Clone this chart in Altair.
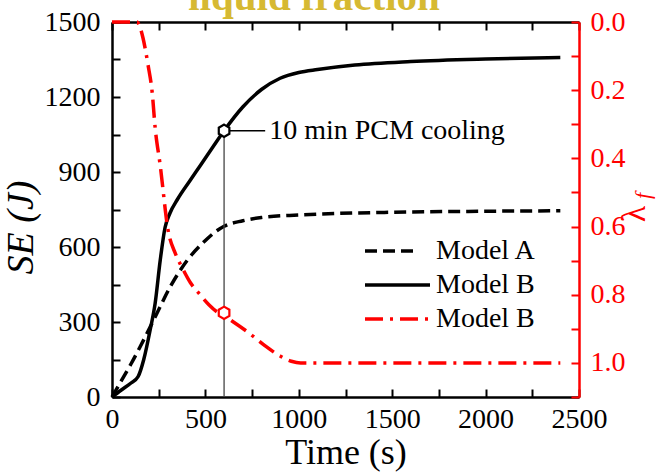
import altair as alt
import pandas as pd

# ---------------- data ----------------
time_a = [0, 43, 100, 150, 231, 311, 402, 500, 563, 600, 700, 800, 1000, 1200, 1500, 2000, 2400]
se_a = [0, 56, 130, 200, 320, 440, 546, 626, 666, 683, 705, 718, 728, 734, 739, 743, 745]

time_b = [0, 50, 100, 140, 170, 204, 231, 258, 284, 310, 350, 418, 472, 540, 600, 700, 800,
          900, 1000, 1100, 1300, 1600, 2000, 2400]
se_b = [0, 28, 55, 82, 150, 267, 375, 546, 678, 735, 790, 866, 925, 1000, 1065, 1160, 1230,
        1275, 1298, 1310, 1328, 1342, 1352, 1358]

time_lf = [0, 134, 150, 166, 193, 215, 231, 258, 300, 340, 375, 420, 472, 520, 569, 600, 650,
           740, 820, 900, 960, 1010, 1500, 2000, 2400]
lf_b = [0.0, 0.0, 0.015, 0.047, 0.126, 0.206, 0.31, 0.42, 0.61, 0.68, 0.72, 0.765, 0.80, 0.83,
        0.853, 0.862, 0.88, 0.915, 0.95, 0.98, 0.995, 1.0, 1.0, 1.0, 1.0]

mark_time = [600]
mark_se = [1065]
mark_lf = [0.853]
label_time = [820]
annotation = ["10 min PCM cooling"]
legend_labels = ["Model A", "Model B", "Model B"]

x_ticks = list(range(0, 2501, 250))
y_ticks = list(range(0, 1501, 150))
lf_ticks = [round(i * 0.1, 1) for i in range(12)]

FONT = "Liberation Serif"
TICK_IN = {"expr": "-8"}
HEX = "M0,-1L0.866,-0.5L0.866,0.5L0,1L-0.866,0.5L-0.866,-0.5Z"

df_a = pd.DataFrame({"t": time_a, "se": se_a})
df_b = pd.DataFrame({"t": time_b, "se": se_b})
df_lf = pd.DataFrame({"t": time_lf, "lf": lf_b})
df_mark = pd.DataFrame({"t": mark_time, "se": mark_se, "lf": mark_lf,
                        "t_end": label_time, "label": annotation})

common_axis = dict(grid=False, labelFont=FONT, labelFontSize=28, titleFont=FONT,
                   titleFontSize=36, titleFontWeight="normal", domainWidth=2.5,
                   tickWidth=2, tickSize=TICK_IN, labelFlush=False, labelOverlap=False)

x_scale = alt.Scale(domain=[0, 2500], nice=False, zero=False)
x_bottom = alt.X("t:Q", scale=x_scale, axis=alt.Axis(
    orient="bottom", values=x_ticks, format="d",
    labelExpr="datum.value % 500 == 0 ? datum.label : ''",
    labelPadding=16, title="Time (s)", titlePadding=2,
    domainColor="black", tickColor="black", labelColor="black", titleColor="black",
    **common_axis))
x_top = alt.X("t:Q", scale=x_scale, axis=alt.Axis(
    orient="top", values=x_ticks, labels=False, title=None,
    domainColor="black", tickColor="black", **common_axis))

y_axis_opts = dict(common_axis)
y_axis_opts["titleFontSize"] = 38
y_se = alt.Y("se:Q", scale=alt.Scale(domain=[0, 1500], nice=False), axis=alt.Axis(
    orient="left", values=y_ticks, format="d",
    labelExpr="datum.value % 300 == 0 ? datum.label : ''",
    labelPadding=20, title="SE (J)", titleFontStyle="italic", titlePadding=4, titleY=205,
    domainColor="black", tickColor="black", labelColor="black", titleColor="black",
    **y_axis_opts))
y_lf = alt.Y("lf:Q", scale=alt.Scale(domain=[0, 1.1], reverse=True, nice=False, zero=False),
             axis=alt.Axis(
                 orient="right", values=lf_ticks,
                 labelExpr="(round(datum.value * 10) % 2 == 0 && datum.value < 1.05) ? format(datum.value, '.1f') : ''",
                 labelPadding=19, title=None,
                 domainColor="red", tickColor="red", labelColor="red", **common_axis))

# ---------------- SE layer ----------------
vline = alt.Chart(df_mark).mark_rule(color="#444444", strokeWidth=1.3).encode(
    x=x_bottom, y=y_se, y2=alt.datum(0))
hline = alt.Chart(df_mark).mark_rule(color="black", strokeWidth=1.5).encode(
    x=x_bottom, x2="t_end:Q", y=y_se)
ann = alt.Chart(df_mark).mark_text(font=FONT, fontSize=28, align="left", baseline="middle",
                                   dx=4, color="black").encode(
    x=alt.X("t_end:Q", scale=x_scale), y=y_se, text="label:N")
line_a = alt.Chart(df_a).mark_line(color="black", strokeWidth=3.5, strokeDash=[12, 6],
                                   interpolate="monotone").encode(x=x_bottom, y=y_se)
line_b = alt.Chart(df_b).mark_line(color="black", strokeWidth=3.5,
                                   interpolate="monotone").encode(x=x_bottom, y=y_se)
hex_se = alt.Chart(df_mark).mark_point(shape=HEX, size=150, filled=True, fill="white",
                                       stroke="black", strokeWidth=2.2, opacity=1).encode(
    x=x_bottom, y=y_se)

# legend (drawn by hand)
leg_styles = [dict(color="black", strokeDash=[12, 6]), dict(color="black"),
              dict(color="red", strokeDash=[18, 7, 3, 7])]
leg_x2 = [301, 318, 318]
leg_rows = [229, 263, 297]
legend_layers = []
for lab, sty, ly, lx2 in zip(legend_labels, leg_styles, leg_rows, leg_x2):
    one = pd.DataFrame({"label": [lab]})
    legend_layers.append(alt.Chart(one).mark_rule(strokeWidth=3.5, **sty).encode(
        x=alt.value(253), x2=alt.value(lx2), y=alt.value(ly)))
    legend_layers.append(alt.Chart(one).mark_text(font=FONT, fontSize=28, align="left",
                                                  baseline="middle", color="black").encode(
        x=alt.value(324), y=alt.value(ly), text="label:N"))

se_layer = alt.layer(line_a, vline, hline, ann, line_b, hex_se, *legend_layers)

# ---------------- liquid fraction layer ----------------
line_lf = alt.Chart(df_lf).mark_line(color="red", strokeWidth=3.5, strokeDash=[18, 7, 3, 7],
                                     interpolate="monotone").encode(x=x_top, y=y_lf)
hex_lf = alt.Chart(df_mark).mark_point(shape=HEX, size=150, filled=True, fill="white",
                                       stroke="red", strokeWidth=2.2, opacity=1).encode(
    x=x_top, y=y_lf)
lam_t = alt.Chart(pd.DataFrame({"s": ["λ"]})).mark_text(
    font=FONT, fontSize=34, color="red", angle=270, align="center", baseline="middle").encode(
    x=alt.value(523), y=alt.value(192), text="s:N")
lam_f = alt.Chart(pd.DataFrame({"s": ["f"]})).mark_text(
    font=FONT, fontSize=22, fontStyle="italic", color="red", angle=270, align="center",
    baseline="middle").encode(x=alt.value(531), y=alt.value(174), text="s:N")
top_title = alt.Chart(pd.DataFrame({"s": ["liquid fraction"]})).mark_text(
    font=FONT, fontSize=41, fontWeight="bold", color="#d6b932", align="center",
    baseline="alphabetic").encode(x=alt.value(202), y=alt.value(-12), text="s:N")

lf_layer = alt.layer(line_lf, hex_lf, lam_t, lam_f, top_title)

chart = alt.layer(se_layer, lf_layer).resolve_scale(y="independent").resolve_axis(
    x="independent", y="independent").properties(
    width=467, height=375,
    padding={"left": 112, "top": 22, "right": 85, "bottom": 76},
    autosize=alt.AutoSizeParams(type="none"),
    background="white",
).configure_view(stroke=None)

chart.save("out.html", embed_options={"renderer": "svg", "actions": False})
